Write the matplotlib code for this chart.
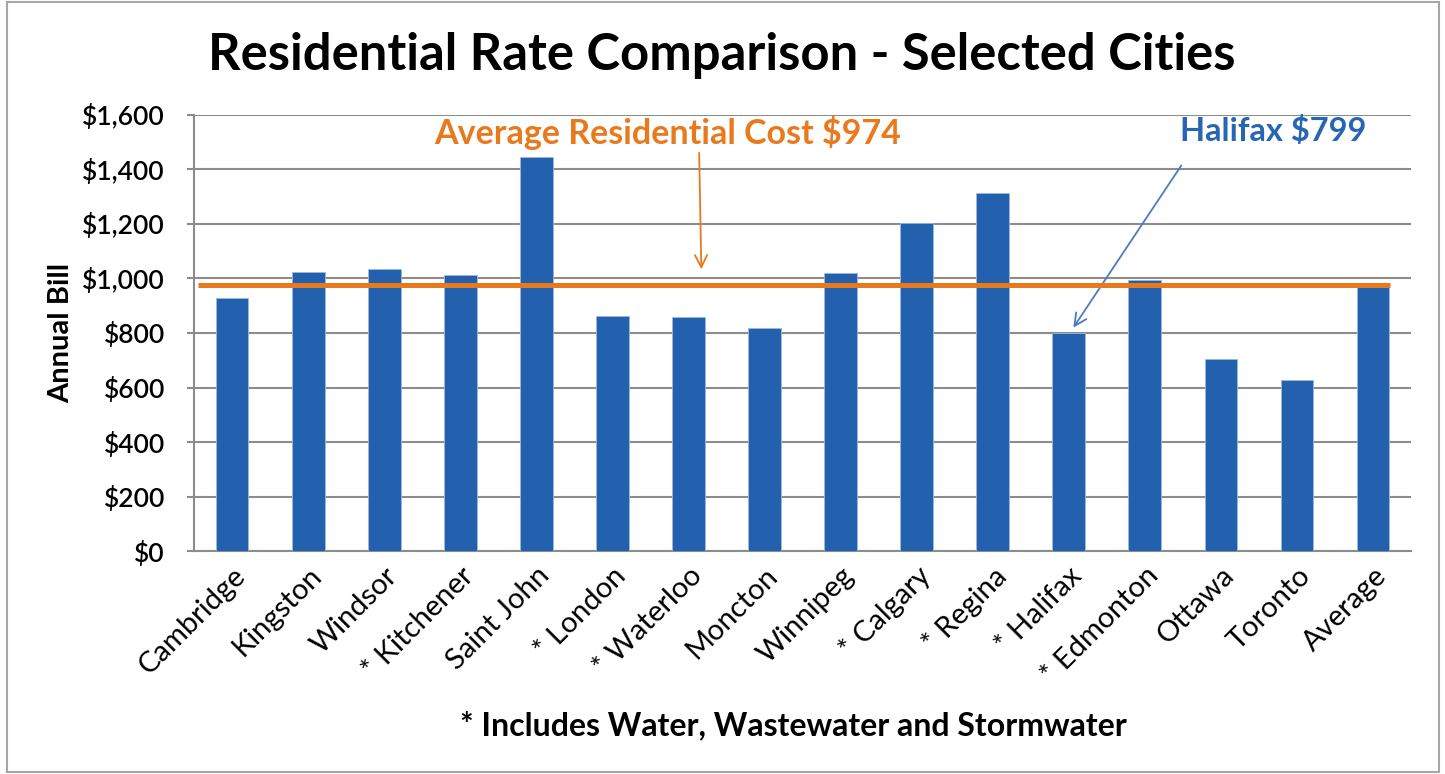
import numpy as np
import matplotlib
matplotlib.use("Agg")
import matplotlib.pyplot as plt
from matplotlib.patches import Rectangle
from matplotlib.ticker import FuncFormatter

cities = ["Cambridge", "Kingston", "Windsor", "* Kitchener", "Saint John",
          "* London", "* Waterloo", "Moncton", "Winnipeg", "* Calgary",
          "* Regina", "* Halifax", "* Edmonton", "Ottawa", "Toronto", "Average"]
annual_bill = [928, 1022, 1034, 1013, 1445, 862, 857, 819, 1018, 1201,
               1311, 799, 994, 705, 626, 974]
avg_cost = 974
halifax_cost = 799

bar_color = "#2361AE"
orange = "#E8791D"
blue_txt = "#2866B4"
grid_gray = "#8C8C8C"

plt.rcParams['font.family'] = ['Lato', 'DejaVu Sans']

fig = plt.figure(figsize=(14.45, 7.74), dpi=100)
ax = fig.add_axes([0.1343, 0.2877, 0.8422, 0.5643])

x = np.arange(len(cities))
ax.bar(x, annual_bill, width=0.43, color=bar_color, edgecolor="#9DB8DD",
       linewidth=0.6, zorder=3)

# average line
ax.plot([-0.45, 15.22], [avg_cost, avg_cost], color=orange, lw=3.6,
        zorder=4, solid_capstyle="butt")

ax.set_xlim(-0.5, len(cities) - 0.5)
ax.set_ylim(0, 1600)
ax.set_yticks(np.arange(0, 1601, 200))
ax.yaxis.set_major_formatter(FuncFormatter(lambda v, p: "${:,.0f}".format(v)))
ax.grid(axis="y", color=grid_gray, lw=1.5, zorder=0)
ax.set_axisbelow(True)

for s in ["top", "right"]:
    ax.spines[s].set_visible(False)
for s in ["left", "bottom"]:
    ax.spines[s].set_color(grid_gray)
    ax.spines[s].set_linewidth(1.5)

ax.tick_params(axis="y", length=5, width=1.5, color=grid_gray, labelsize=19,
               pad=16)
ax.tick_params(axis="x", length=0, pad=8)
ax.set_xticks(x)
ax.set_xticklabels(cities, rotation=45, ha="right", rotation_mode="anchor",
                   fontsize=21)
for lab in ax.get_yticklabels():
    lab.set_fontweight("semibold")

ax.set_ylabel("Annual Bill", fontsize=21, fontweight="bold", labelpad=6)

fig.text(0.4995, 0.928, "Residential Rate Comparison - Selected Cities",
         ha="center", va="center", fontsize=36.5, fontweight="bold")
fig.text(0.549, 0.063, "* Includes Water, Wastewater and Stormwater",
         ha="center", va="center", fontsize=23, fontweight="bold")

ax.text(5.72, 1535, "Average Residential Cost $974", color=orange,
        fontsize=24.5, fontweight="bold", ha="center", va="center")
ax.annotate("", xy=(6.17, 1023), xytext=(6.14, 1470),
            arrowprops=dict(arrowstyle="->", color=orange, lw=1.3,
                            mutation_scale=22))

ax.text(13.69, 1540, "Halifax $799", color=blue_txt, fontsize=23.5,
        fontweight="bold", ha="center", va="center")
ax.annotate("", xy=(11.04, 811), xytext=(12.5, 1422),
            arrowprops=dict(arrowstyle="->", color="#4A7CC0", lw=1.3,
                            mutation_scale=22))

fig.add_artist(Rectangle((0.005, 0.003), 0.991, 0.994, transform=fig.transFigure,
                         fill=False, edgecolor="#A6A6A6", lw=1.5))

fig.savefig("out.png", dpi=100)
